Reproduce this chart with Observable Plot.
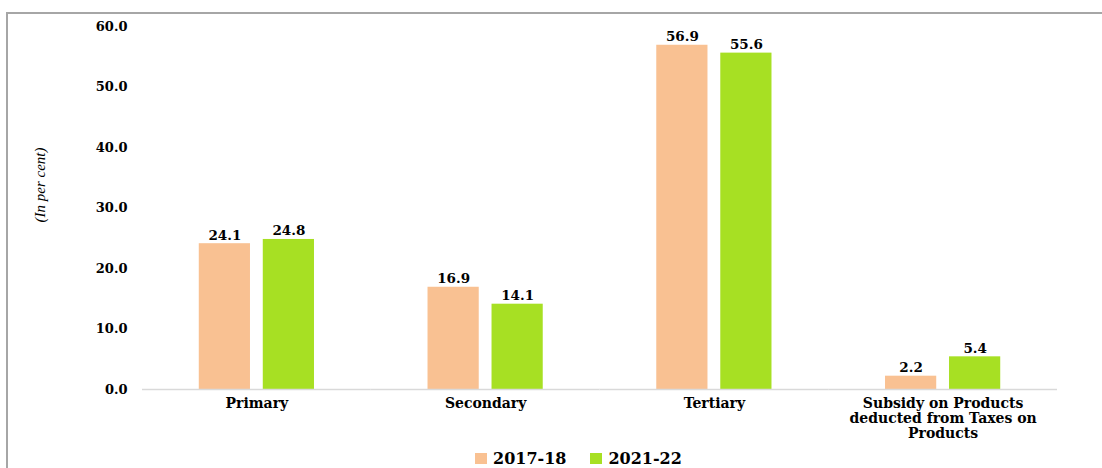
<!DOCTYPE html>
<html>
<head>
<meta charset="utf-8">
<script src="https://cdn.jsdelivr.net/npm/d3@7"></script>
<script src="https://cdn.jsdelivr.net/npm/@observablehq/plot@0.6"></script>
<style>
  html, body { margin: 0; padding: 0; background: #fff; }
  #wrap { position: relative; width: 1102px; height: 468px; overflow: hidden; }
  #frame { position: absolute; left: 6px; top: 12px; right: -4px; bottom: -4px;
           border-left: 2px solid #a6a6a6; border-top: 2px solid #a6a6a6; }
  #chart { position: absolute; left: 0; top: 0; }
  #ylabel { position: absolute; left: 40px; top: 185px; transform: translate(-50%, -50%) rotate(-90deg);
            font-family: "Liberation Serif", serif; font-style: italic; font-size: 15px; color: #000; white-space: nowrap; }
  #legend { position: absolute; left: 475px; top: 449px; display: flex; align-items: center;
            font-family: "DejaVu Serif", serif; font-weight: bold; font-size: 16px; color: #000; }
  .item { display: flex; align-items: center; margin-right: 24px; }
  .sw { width: 12px; height: 11px; margin-right: 6px; }
</style>
</head>
<body>
<div id="wrap">
  <div id="frame"></div>
  <div id="chart"></div>
  <div id="ylabel">(In per cent)</div>
  <div id="legend"></div>
</div>
<script>
const categories = ["Primary", "Secondary", "Tertiary", "Subsidy on Products\ndeducted from Taxes on\nProducts"];
const years = ["2017-18", "2021-22"];
const values2017 = [24.1, 16.9, 56.9, 2.2];
const values2021 = [24.8, 14.1, 55.6, 5.4];
const yTicks = [0, 10, 20, 30, 40, 50, 60];
const colors = ["#F9C192", "#A7E023"];

const data = [];
categories.forEach((c, i) => {
  data.push({cat: c, year: years[0], value: values2017[i]});
  data.push({cat: c, year: years[1], value: values2021[i]});
});

const plot = Plot.plot({
  width: 1102,
  height: 468,
  marginLeft: 142,
  marginRight: 45,
  marginTop: 26,
  marginBottom: 79,
  style: {fontFamily: "'DejaVu Serif', serif", fontWeight: "bold", fontSize: "13px", color: "#000", background: "transparent"},
  fx: {domain: categories, padding: 0, round: false, label: null, axis: null},
  x: {domain: years, paddingInner: 0.2, paddingOuter: 0.887, round: false, axis: null},
  y: {domain: [0, 60], ticks: yTicks, tickFormat: d => d.toFixed(1), tickSize: 0, tickPadding: 15, label: null},
  color: {domain: years, range: colors},
  marks: [
    Plot.axisFx({anchor: "bottom", lineAnchor: "top", tickSize: 0, tickPadding: 8, fontSize: 14, fontWeight: "bold", label: null, lineHeight: 1.07}),
    Plot.barY(data, {fx: "cat", x: "year", y: "value", fill: "year"}),
    Plot.ruleY([0], {stroke: "#d9d9d9", strokeWidth: 1.5}),
    Plot.text(data, {fx: "cat", x: "year", y: "value", text: d => d.value.toFixed(1), lineAnchor: "bottom", dy: -4, fontSize: 13.5, fontWeight: "bold", fill: "#000"})
  ]
});
document.getElementById("chart").appendChild(plot);

const legend = document.getElementById("legend");
years.forEach((y, i) => {
  const it = document.createElement("div");
  it.className = "item";
  const sw = document.createElement("div");
  sw.className = "sw";
  sw.style.background = colors[i];
  const t = document.createElement("span");
  t.textContent = y;
  it.appendChild(sw); it.appendChild(t);
  legend.appendChild(it);
});
</script>
</body>
</html>
